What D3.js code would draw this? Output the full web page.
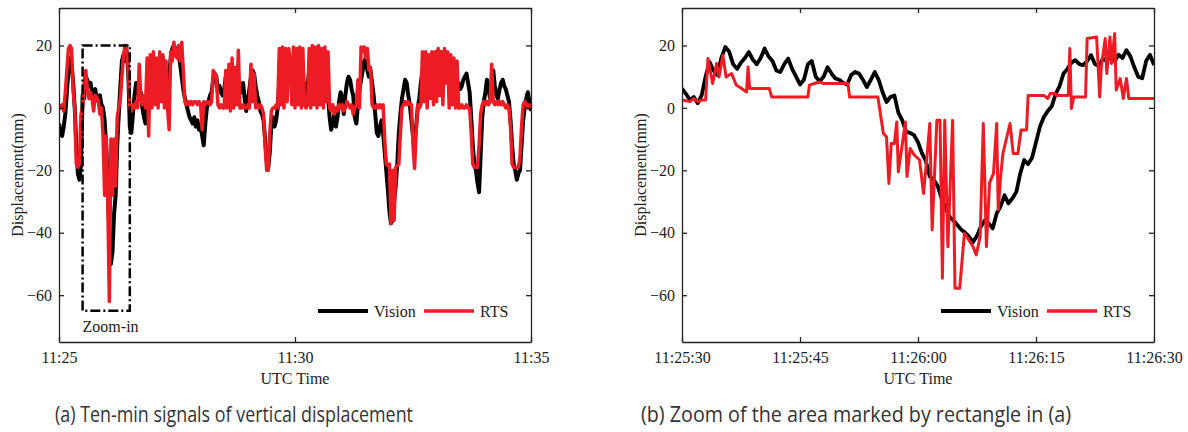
<!DOCTYPE html>
<html>
<head>
<meta charset="utf-8">
<script src="https://cdn.jsdelivr.net/npm/d3@7"></script>
<style>
  body { margin: 0; background: #fff; }
</style>
</head>
<body>
<div id="chart"></div>
<script>
// Vertical displacement (mm), one reading every 2 s from 11:25:00 to 11:35:00
var visionTen = [
  -5, -8, -9, -6, -2, 5, 12, 16, 14, 8,
  0, -12, -21, -23, -18, 4, 3, 10, 9, 7,
  8, 5, 4, 6, 3, 2, 4, 1, 0, -4,
  -12, -24, -40, -50, -46, -34, -28, -12, -2, 7,
  15, 17, 15, 18, 12, -6, -8, -2, 4, 8,
  6, 3, 5, 0, -3, -5, 2, 8, 10, 5,
  12, 8, 14, 10, 15, 12, 16, 10, 8, 4,
  10, 16, 19, 20, 19, 18, 17, 14, 10, 6,
  3, 1, -1, -3, -4, -5, -3, -6, -4, -7,
  -6, -9, -12, -5, 0, 2, 4, 5, 9, 11,
  10, 5, 7, 5, 4, 6, 10, 8, 12, 9,
  13, 8, 11, 7, 8, 6, 5, 8, 3, -1,
  2, 6, 10, 12, 11, 7, 4, 2, -1, -2,
  -4, -10, -17, -19, -14, -5, -3, -6, -4, 0,
  8, 12, 15, 17, 16, 18, 14, 16, 12, 15,
  10, 14, 12, 16, 13, 10, 6, 4, 7, 12,
  16, 18, 17, 15, 18, 16, 14, 17, 15, 12,
  8, 4, -3, -7, -5, -2, -6, -3, 2, 5,
  3, -2, 4, 8, 10, 9, 6, 4, -3, -5,
  1, 6, 9, 12, 15, 16, 12, 10, 12, 8,
  4, -2, -8, -9, -6, -4, -8, -14, -20, -26,
  -33, -37, -36, -30, -25, -18, -8, -2, 3, 6,
  9, 8, 4, 1, -4, -9, -10, -6, 0, 3,
  8, 12, 10, 14, 15, 12, 16, 14, 17, 15,
  18, 16, 18, 15, 13, 16, 12, 10, 8, 11,
  7, 10, 8, 6, 8, 6, 7, 9, 10, 11,
  8, 5, -3, -12, -18, -20, -24, -27, -15, -3,
  2, 5, 9, 6, 3, 8, 12, 7, 4, 3,
  6, 8, 9, 7, 6, 4, 2, -4, -12, -18,
  -20, -23, -21, -20, -12, -4, 0, 3, 5, 2,
  -1
];
var rtsTen = [
  1, 0, 1, -1, 5, 12, 19, 20, 19, 6,
  0, -18, -19, -18, -2, 0, 8, 12, 6, 3,
  5, 3, -1, 4, 3.5, 2, -2, 0, -9, -28,
  -9, -30, -62, -10, -28, -10, -25, -3, 0, 3,
  10, 17, 20, 19, 12, 0, -1, 1, 0, 2,
  0, 14, 3, 1, 4, 0, 16, -9, 17, 0,
  18, 1, 16, 0, 18, 2, 17, 0, 15, 0,
  -7, 18, 15, 21, 17, 16, 20, 15, 21, 12,
  2, 1, 2, 1, 2, 1, 2, 2, 1, 2,
  1, -7, 2, 1, 2, 2, 1, 2, 12, 11,
  10, 1, 0, 1, 0, 0, 12, 0, 14, -1,
  16, 0, 13, 1, 18.5, 0, 0, 1, 0, 0,
  1, 0, 14, 2, 11, 0, 1, 0, 1, 0,
  -2, -12, -20, -20, -8, -1, 0, 0, 1, 0,
  19, 1, 19.5, 0, 19, 2, 19, 15, 1, 19.5,
  0, 19, 1, 19.5, 0, 19, 1, 0, 1, 19,
  0, 20, 1, 19.5, 0, 20, 1, 19, 0, 19.5,
  2, 18, 0, -1, 1, -2, 0, -1, 1, 0,
  1, -1, 0, 2, 1, 0, 1, -2, 0, 1,
  9, 0, 19.5, 18, 19.5, 16, 19, 12, 13, 1,
  0, 0, 1, 0, 1, 0, 1, -10, -18, -18.5,
  -18, -37, -20, -36, -19, -18.5, -18, -8, 0, 1,
  2, 1, 2, 1, 1, -12, -19.4, -8, 1, 0,
  1, 18, 2, 18, 0, 17, 3, 18, 1, 18,
  2, 19, 4, 18, 1, 19, 8, 18, 0, 17,
  1, 16, 0, 15, 0, 0, 1, 0, 0, 1,
  0, 0, -8, -18, -19, -19, -19, -12, -2, 1,
  2, 1, 2, 1, 2, 14, 2, 1, 2, 1,
  2, 1, 2, 1, 0, 1, 0, -6, -18, -19,
  -19, -19, -19, -16, -6, 1, 2, 1, 0, 1,
  0
];

// Zoom window 11:25:30 - 11:26:30, vision every 0.5 s
var visionZoom = [
  6.2, 4.5, 2.5, 3.5, 1.5, 4, 10, 14.7, 12, 10.5,
  16, 19.5, 18, 14, 12.5, 14.5, 16, 17.9, 15.5, 14,
  16, 19, 16.5, 15, 12, 11.5, 14, 15.8, 12.5, 10,
  7.5, 9, 14, 15, 10, 8.5, 10, 13, 11, 9.4,
  9, 8, 7.5, 10.5, 11.5, 11, 9, 6.7, 9, 11.5,
  9, 5, 1.9, 3.5, 4, -1.5, -4, -7.7, -8, -8.7,
  -11, -14.5, -17, -22, -23, -25, -29, -32, -34.9, -36,
  -37.5, -39, -40, -41.3, -43, -41, -38, -36, -37, -38.6,
  -33.8, -31.5, -28, -30.6, -29, -26.9, -21, -16.7, -18, -16,
  -11, -6, -2.9, -1, 0.5, 4.5, 7, 11, 12.5, 14.5,
  15.3, 14, 13.7, 15, 16.9, 14, 13.5, 15.8, 15, 16.5,
  15, 17, 16, 18.5, 16.5, 13, 10, 9.5, 15, 17,
  13.7
];
// RTS in the zoom window: [seconds after 11:25:30, mm]
var rtsZoom = [
  [0, 2.5], [1, 2], [1.5, 3], [2, 2], [2.5, 2.5], [3, 2.5], [3.3, 15.8], [3.9, 7.8],
  [4.4, 14.2], [4.7, 9.9], [5.2, 16.9], [5.6, 9.9], [6.3, 11], [6.9, 7.3], [7.3, 6.7],
  [8.2, 5.1], [8.4, 13.1], [8.6, 6.2], [11.1, 6.2], [11.4, 3.5], [16, 3.5], [16.2, 7.3],
  [16.8, 7.8], [17.5, 8.3], [18, 7.8], [21.1, 7.8], [21.3, 3.5], [24.9, 3.5], [25.6, -8.2],
  [26, -9.3], [26.3, -24.2], [26.6, -11.4], [27, -11.4], [27.3, -4.5], [27.5, -20.5],
  [27.9, -13.5], [28.4, -4.5], [28.6, -22], [29, -13], [29.5, -15], [30.2, -16.7],
  [30.7, -27.4], [31.1, -16.7], [31.5, -5], [31.8, -39.1], [32.4, -4], [32.8, -4],
  [33.1, -54.6], [33.4, -4], [33.8, -44.5], [34.4, -4], [34.7, -57.8], [35.3, -57.8],
  [35.9, -40.2], [36.2, -41.3], [37, -44.5], [37.4, -47.1], [37.9, -41.3], [38.3, -5],
  [38.7, -44.5], [39.1, -24], [39.6, -21], [40, -5], [40.2, -32.7], [40.5, -22],
  [40.8, -14.6], [41.7, -5], [42.1, -14.6], [42.7, -14.6], [43.1, -7.1], [43.8, -7.1],
  [44, 4], [46, 4], [46.5, 3], [46.8, 4.6], [47.4, 4.6], [47.6, 4], [49.1, 4], [49.3, 19],
  [49.5, -0.2], [49.8, 3.5], [51.3, 3.5], [51.5, 22.2], [52.7, 22.7], [53.1, 3.5],
  [53.3, 13.1], [53.8, 22.2], [54, 11], [54.4, 22.7], [54.6, 14.2], [55, 23.8], [55.2, 5.7],
  [55.7, 9.4], [56.1, 3], [56.5, 9.4], [56.8, 3], [60, 3]
];

var yTicks = [-60, -40, -20, 0, 20];
var tenTicks = ["11:25", "11:30", "11:35"];
var zoomTicks = ["11:25:30", "11:25:45", "11:26:00", "11:26:15", "11:26:30"];
var seriesNames = ["Vision", "RTS"];
var captions = ["(a) Ten-min signals of vertical displacement", "(b) Zoom of the area marked by rectangle in (a)"];

var width = 1188, height = 432;
var red = "#ed1c24";
var serif = "'Liberation Serif', 'Times New Roman', serif";
var top0 = 8, bottom0 = 342;

var svg = d3.select("#chart").append("svg")
    .attr("width", width)
    .attr("height", height);

var parseHM = d3.timeParse("%H:%M"),
    parseHMS = d3.timeParse("%H:%M:%S");

function panel(p) {
    var x = d3.scaleTime().domain(p.domain).range([p.left, p.right]);
    var y = d3.scaleLinear().domain([-75, 32]).range([bottom0, top0]);
    var g = svg.append("g");

    g.append("clipPath").attr("id", "clip" + p.id)
      .append("rect")
        .attr("x", p.left).attr("y", top0)
        .attr("width", p.right - p.left).attr("height", bottom0 - top0);

    var line = d3.line()
        .x(function(d) { return x(d[0]); })
        .y(function(d) { return y(d[1]); });

    var plot = g.append("g").attr("clip-path", "url(#clip" + p.id + ")");
    plot.append("path").datum(p.vision)
        .attr("d", line).attr("fill", "none")
        .attr("stroke", "#000").attr("stroke-width", p.widths[0])
        .attr("stroke-linejoin", "round");
    plot.append("path").datum(p.rts)
        .attr("d", line).attr("fill", "none")
        .attr("stroke", red).attr("stroke-width", p.widths[1])
        .attr("stroke-linejoin", "round");

    // axes: ticks point inward, box made from the four domain lines
    var bottom = d3.axisBottom(x).tickValues(p.ticks).tickFormat(p.format)
        .tickSizeInner(-5).tickSizeOuter(0).tickPadding(10);
    var left = d3.axisLeft(y).tickValues(yTicks)
        .tickSizeInner(-5).tickSizeOuter(0).tickPadding(7);
    var topA = d3.axisTop(x).tickValues(p.ticks).tickFormat("")
        .tickSizeInner(-5).tickSizeOuter(0);
    var right = d3.axisRight(y).tickValues(yTicks).tickFormat("")
        .tickSizeInner(-5).tickSizeOuter(0);

    [[bottom, "translate(0," + bottom0 + ")"],
     [left, "translate(" + p.left + ",0)"],
     [topA, "translate(0," + top0 + ")"],
     [right, "translate(" + p.right + ",0)"]].forEach(function(a) {
        var ax = g.append("g").attr("transform", a[1]).call(a[0]);
        ax.attr("font-family", serif).attr("font-size", 16);
        ax.selectAll("path, line").attr("stroke", "#222").attr("stroke-width", 1.3);
        ax.selectAll("text").attr("fill", "#222")
            .attr("font-family", serif).attr("font-size", 16);
    });

    g.append("text")
        .attr("x", (p.left + p.right) / 2).attr("y", 384)
        .attr("text-anchor", "middle")
        .attr("font-family", serif).attr("font-size", 16).attr("fill", "#222")
        .text("UTC Time");

    g.append("text")
        .attr("transform", "translate(" + (p.left - 36) + "," + ((top0 + bottom0) / 2) + ") rotate(-90)")
        .attr("text-anchor", "middle")
        .attr("font-family", serif).attr("font-size", 16).attr("fill", "#222")
        .text("Displacement(mm)");

    // legend
    var lx = p.right - 213, ly = 311;
    [["#000", 4], [red, 3.5]].forEach(function(s, i) {
        var ox = lx + i * 106;
        g.append("line")
            .attr("x1", ox).attr("x2", ox + 50).attr("y1", ly).attr("y2", ly)
            .attr("stroke", s[0]).attr("stroke-width", s[1]);
        g.append("text")
            .attr("x", ox + 56).attr("y", ly + 6)
            .attr("font-family", serif).attr("font-size", 16).attr("fill", "#222")
            .text(seriesNames[i]);
    });

    g.append("text")
        .attr("x", p.capX).attr("y", 422)
        .attr("font-family", "'Open Sans', sans-serif").attr("font-size", 22)
        .attr("fill", "#333")
        .attr("textLength", p.capW).attr("lengthAdjust", "spacingAndGlyphs")
        .text(p.caption);

    return {x: x, y: y, g: g};
}

var t0 = parseHM("11:25");
function every(values, stepMs, start) {
    return values.map(function(v, i) { return [new Date(+start + i * stepMs), v]; });
}

var a = panel({
    id: "a", left: 59, right: 531,
    domain: [parseHM(tenTicks[0]), parseHM(tenTicks[tenTicks.length - 1])],
    ticks: tenTicks.map(parseHM), format: d3.timeFormat("%H:%M"),
    vision: every(visionTen, 2000, t0), rts: every(rtsTen, 2000, t0),
    widths: [4, 3.5],
    caption: captions[0], capX: 55, capW: 358
});

var z0 = parseHMS(zoomTicks[0]);
var b = panel({
    id: "b", left: 682, right: 1154,
    domain: [z0, parseHMS(zoomTicks[zoomTicks.length - 1])],
    ticks: zoomTicks.map(parseHMS), format: d3.timeFormat("%H:%M:%S"),
    vision: every(visionZoom, 500, z0),
    rts: rtsZoom.map(function(d) { return [new Date(+z0 + d[0] * 1000), d[1]]; }),
    widths: [3.8, 3],
    caption: captions[1], capX: 641, capW: 430
});

// dash-dot rectangle marking the zoom window on panel (a)
a.g.append("rect")
    .attr("x", a.x(z0)).attr("y", a.y(20))
    .attr("width", a.x(parseHMS(zoomTicks[zoomTicks.length - 1])) - a.x(z0))
    .attr("height", a.y(-65) - a.y(20))
    .attr("fill", "none").attr("stroke", "#000").attr("stroke-width", 2.5)
    .attr("stroke-dasharray", "10,3,2,3");
a.g.append("text")
    .attr("x", a.x(z0)).attr("y", 332)
    .attr("font-family", serif).attr("font-size", 16).attr("fill", "#222")
    .text("Zoom-in");
</script>
</body>
</html>
